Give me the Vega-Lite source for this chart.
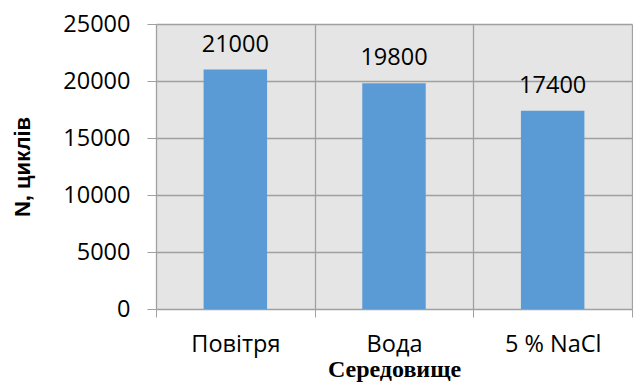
{
  "$schema": "https://vega.github.io/schema/vega-lite/v6.json",
  "autosize": "none",
  "padding": {"left": 156, "top": 24, "right": 1, "bottom": 76},
  "width": 476,
  "height": 285,
  "background": "white",
  "config": {
    "view": {"fill": "#e5e5e5", "stroke": null},
    "font": "Open Sans"
  },
  "data": {
    "values": [
      {"medium": "Повітря", "N": 21000},
      {"medium": "Вода", "N": 19800},
      {"medium": "5 % NaCl", "N": 17400}
    ]
  },
  "encoding": {
    "x": {
      "field": "medium",
      "type": "nominal",
      "sort": null,
      "scale": {"paddingInner": 0, "paddingOuter": 0},
      "axis": {
        "title": "Середовище",
        "titleFont": "Liberation Serif",
        "titleFontWeight": "bold",
        "titleFontSize": 24,
        "titleColor": "#000000",
        "titlePadding": 2,
        "labelAngle": 0,
        "labelFont": "Open Sans",
        "labelFontSize": 23.5,
        "labelColor": "#000000",
        "labelPadding": 15,
        "tickBand": "extent",
        "tickSize": 8,
        "tickColor": "#a0a0a0",
        "grid": true,
        "gridColor": "#a0a0a0",
        "gridWidth": 1.3,
        "domain": false
      }
    },
    "y": {
      "field": "N",
      "type": "quantitative",
      "scale": {"domain": [0, 25000], "nice": false},
      "axis": {
        "title": "N, циклів",
        "titleFont": "Liberation Sans",
        "titleFontWeight": "bold",
        "titleFontSize": 22,
        "titleColor": "#000000",
        "titlePadding": 28,
        "values": [0, 5000, 10000, 15000, 20000, 25000],
        "format": "d",
        "labelFont": "Open Sans",
        "labelFontSize": 23.5,
        "labelColor": "#000000",
        "labelPadding": 17,
        "tickSize": 9,
        "tickColor": "#a0a0a0",
        "grid": true,
        "gridColor": "#a0a0a0",
        "gridWidth": 1.3,
        "domain": false
      }
    }
  },
  "layer": [
    {
      "mark": {"type": "bar", "color": "#5b9bd5", "width": {"band": 0.4}}
    },
    {
      "mark": {"type": "text", "baseline": "alphabetic", "dy": -18, "fontSize": 23.5, "font": "Open Sans", "color": "#000000"},
      "encoding": {"text": {"field": "N", "type": "quantitative", "format": "d"}}
    }
  ]
}
